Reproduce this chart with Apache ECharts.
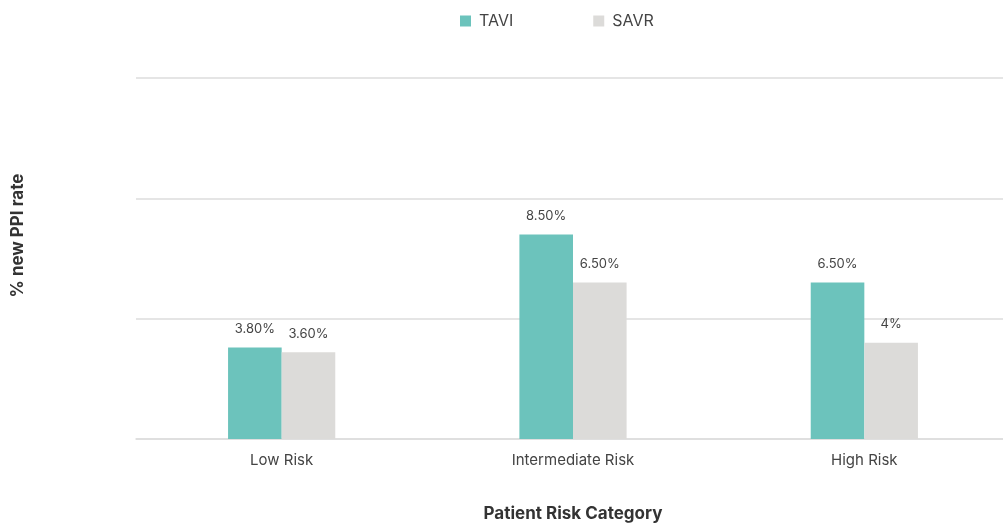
<!DOCTYPE html>
<html>
	<head>
		<meta charset="utf-8" />
		<title>% new PPI rate</title>
		<style>
			html, body { margin: 0; padding: 0; background: #fff; }
			#chart { width: 1003px; height: 523px; }
		</style>
	</head>
	<body>
		<div id="chart"></div>
		<script src="https://cdn.jsdelivr.net/npm/echarts@6/dist/echarts.min.js"></script>
		<script>
			// data
			var categories = ['Low Risk', 'Intermediate Risk', 'High Risk'];
			var taviValues = [3.8, 8.5, 6.5];
			var savrValues = [3.6, 6.5, 4];
			var taviLabels = ['3.80%', '8.50%', '6.50%'];
			var savrLabels = ['3.60%', '6.50%', '4%'];

			var chart = echarts.init(document.getElementById('chart'));
			var font = 'Inter, "Noto Sans", sans-serif';

			function labelOf(list){
				return function(p){ return list[p.dataIndex]; };
			}

			var option = {
				textStyle: { fontFamily: font },
				legend: {
					top: 8,
					left: 455,
					itemWidth: 11,
					itemHeight: 11,
					itemGap: 80,
					icon: 'rect',
					textStyle: { color: '#444', fontSize: 16, fontFamily: font, padding: [0, 0, 0, 3] },
					data: ['TAVI', 'SAVR']
				},
				grid: {
					left: 136,
					right: -7,
					top: 78,
					bottom: 84,
					containLabel: false,
					outerBoundsMode: 'none'
				},
				xAxis: {
					type: 'category',
					data: categories,
					name: 'Patient Risk Category',
					nameLocation: 'middle',
					nameGap: 66,
					nameTextStyle: { color: '#333', fontSize: 17, fontWeight: 'bold', fontFamily: font },
					axisLine: { show: true, lineStyle: { color: '#ddd', width: 1.5 } },
					axisTick: { show: false },
					axisLabel: { color: '#444', fontSize: 15, margin: 14, fontFamily: font }
				},
				yAxis: {
					type: 'value',
					min: 0,
					max: 15,
					interval: 5,
					name: '% new PPI rate',
					nameLocation: 'middle',
					nameGap: 110,
					nameTextStyle: { color: '#333', fontSize: 17, fontWeight: 'bold', fontFamily: font, padding: [0, 0, 0, 46] },
					axisLine: { show: false },
					axisTick: { show: false },
					axisLabel: { show: false },
					splitLine: { lineStyle: { color: '#ddd', width: 1.5 } }
				},
				series: [{
					name: 'TAVI',
					type: 'bar',
					data: taviValues,
					barWidth: '18.4%',
					barGap: '0%',
					itemStyle: { color: '#6cc3bc' },
					label: {
						show: true,
						position: 'top',
						distance: 12,
						color: '#444',
						fontSize: 13,
						fontFamily: font,
						formatter: labelOf(taviLabels)
					}
				}, {
					name: 'SAVR',
					type: 'bar',
					data: savrValues,
					barWidth: '18.4%',
					barGap: '0%',
					itemStyle: { color: '#dcdbd9' },
					label: {
						show: true,
						position: 'top',
						distance: 12,
						color: '#444',
						fontSize: 13,
						fontFamily: font,
						formatter: labelOf(savrLabels)
					}
				}]
			};
			chart.setOption(option);
		</script>
	</body>
</html>
